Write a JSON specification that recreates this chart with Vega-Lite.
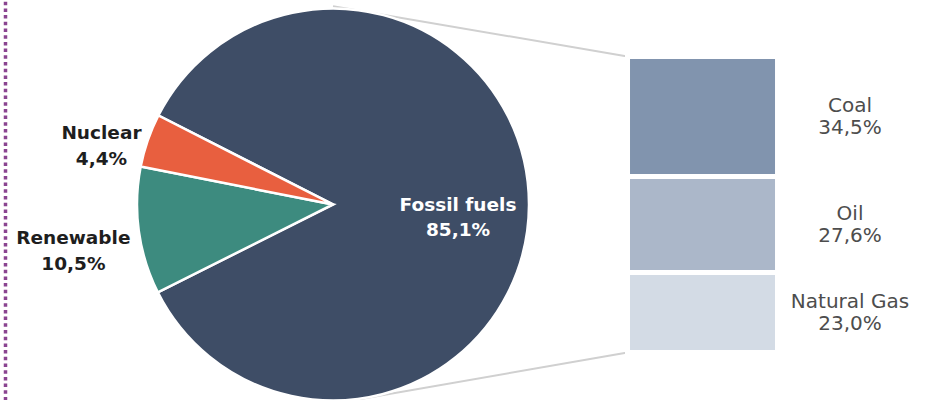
{
  "$schema": "https://vega.github.io/schema/vega-lite/v6.json",
  "width": 928,
  "height": 400,
  "autosize": "none",
  "padding": 0,
  "background": "white",
  "config": {
    "view": {"stroke": null},
    "axisX": {"disable": true},
    "axisY": {"labels": false, "ticks": false, "grid": false, "domainDash": [3.5, 3.2], "domainColor": "#8a4490", "domainWidth": 3.5, "offset": -5}
  },
  "datasets": {
    "energy": [
      {"group": "Primary energy", "category": "Fossil fuels", "value": 85.1, "label": "Fossil fuels\n85,1%"},
      {"group": "Primary energy", "category": "Renewable", "value": 10.5, "label": "Renewable\n10,5%"},
      {"group": "Primary energy", "category": "Nuclear", "value": 4.4, "label": "Nuclear\n4,4%"}
    ],
    "fossil": [
      {"group": "Fossil fuels", "category": "Coal", "value": 34.5, "label": "Coal\n34,5%"},
      {"group": "Fossil fuels", "category": "Oil", "value": 27.6, "label": "Oil\n27,6%"},
      {"group": "Fossil fuels", "category": "Natural Gas", "value": 23.0, "label": "Natural Gas\n23,0%"}
    ],
    "links": [
      {"from": "Primary energy", "to": "Fossil fuels"}
    ]
  },
  "layer": [
    {
      "data": {"name": "links"},
      "mark": {"type": "rule", "color": "#d0d0d0", "strokeWidth": 2},
      "encoding": {
        "x": {"field": "from", "type": "nominal", "scale": {"type": "band", "domain": ["Primary energy", "Fossil fuels"], "paddingInner": 0.59405, "paddingOuter": 0.5527, "align": 0.6316}},
        "x2": {"field": "to", "bandPosition": 0},
        "y": {"datum": 99.56, "type": "quantitative", "title": null, "scale": {"domain": [-13.66, 101.34], "nice": false, "zero": false}},
        "y2": {"datum": 85.1}
      }
    },
    {
      "data": {"name": "links"},
      "mark": {"type": "rule", "color": "#d0d0d0", "strokeWidth": 2},
      "encoding": {
        "x": {"field": "from", "type": "nominal"},
        "x2": {"field": "to", "bandPosition": 0},
        "y": {"datum": -14.75, "type": "quantitative", "title": null},
        "y2": {"datum": 0}
      }
    },
    {
      "data": {"name": "energy"},
      "mark": {"type": "arc", "outerRadius": 196, "stroke": "white", "strokeWidth": 2.5},
      "encoding": {
        "x": {"field": "group", "type": "nominal"},
        "y": {"datum": 42.55, "type": "quantitative", "title": null},
        "theta": {"field": "value", "type": "quantitative", "stack": true, "scale": {"range": [-1.0996, 5.1836]}},
        "order": {"field": "value", "sort": "descending"},
        "color": {"field": "category", "type": "nominal", "legend": null,
          "scale": {"domain": ["Fossil fuels", "Renewable", "Nuclear", "Coal", "Oil", "Natural Gas"],
                    "range": ["#3e4d66", "#3d8b7f", "#e85f3f", "#8194ae", "#abb7c9", "#d3dbe5"]}}
      }
    },
    {
      "data": {"name": "energy"},
      "mark": {"type": "text", "font": "DejaVu Sans", "fontWeight": "bold", "fontSize": 18.5, "lineHeight": 25, "fill": "white", "align": "center", "baseline": "middle", "lineBreak": "\n", "dy": 0},
      "encoding": {
        "x": {"field": "group", "type": "nominal"},
        "y": {"datum": 42.55, "type": "quantitative", "title": null},
        "theta": {"field": "value", "type": "quantitative", "stack": true},
        "order": {"field": "value", "sort": "descending"},
        "detail": {"field": "category"},
        "radius": {"value": 125},
        "text": {"condition": {"test": "datum.category === 'Fossil fuels'", "field": "label"}, "value": ""}
      }
    },
    {
      "data": {"name": "energy"},
      "mark": {"type": "text", "font": "DejaVu Sans", "fontWeight": "bold", "fontSize": 18.5, "lineHeight": 26, "fill": "#1e1e1e", "align": "center", "baseline": "middle", "lineBreak": "\n", "dy": 9},
      "encoding": {
        "x": {"field": "group", "type": "nominal"},
        "y": {"datum": 42.55, "type": "quantitative", "title": null},
        "theta": {"field": "value", "type": "quantitative", "stack": true},
        "order": {"field": "value", "sort": "descending"},
        "detail": {"field": "category"},
        "radius": {"value": 245},
        "text": {"condition": {"test": "datum.category === 'Nuclear'", "field": "label"}, "value": ""}
      }
    },
    {
      "data": {"name": "energy"},
      "mark": {"type": "text", "font": "DejaVu Sans", "fontWeight": "bold", "fontSize": 18.5, "lineHeight": 26, "fill": "#1e1e1e", "align": "center", "baseline": "middle", "lineBreak": "\n", "dy": -2},
      "encoding": {
        "x": {"field": "group", "type": "nominal"},
        "y": {"datum": 42.55, "type": "quantitative", "title": null},
        "theta": {"field": "value", "type": "quantitative", "stack": true},
        "order": {"field": "value", "sort": "descending"},
        "detail": {"field": "category"},
        "radius": {"value": 262},
        "text": {"condition": {"test": "datum.category === 'Renewable'", "field": "label"}, "value": ""}
      }
    },
    {
      "data": {"name": "fossil"},
      "mark": {"type": "bar", "stroke": "white", "strokeWidth": 5},
      "encoding": {
        "x": {"field": "group", "type": "nominal"},
        "y": {"field": "value", "type": "quantitative", "stack": "zero", "title": null},
        "order": {"field": "value", "sort": "ascending"},
        "color": {"field": "category", "type": "nominal", "legend": null}
      }
    },
    {
      "data": {"name": "fossil"},
      "mark": {"type": "text", "font": "DejaVu Sans", "fontSize": 20, "lineHeight": 22, "fill": "#4d4d4d", "align": "center", "baseline": "middle", "lineBreak": "\n", "dx": 147.5, "dy": -10},
      "encoding": {
        "x": {"field": "group", "type": "nominal", "bandPosition": 0.5},
        "y": {"field": "value", "type": "quantitative", "stack": "zero", "bandPosition": 0.5, "title": null},
        "order": {"field": "value", "sort": "ascending"},
        "detail": {"field": "category"},
        "text": {"field": "label"}
      }
    }
  ]
}
